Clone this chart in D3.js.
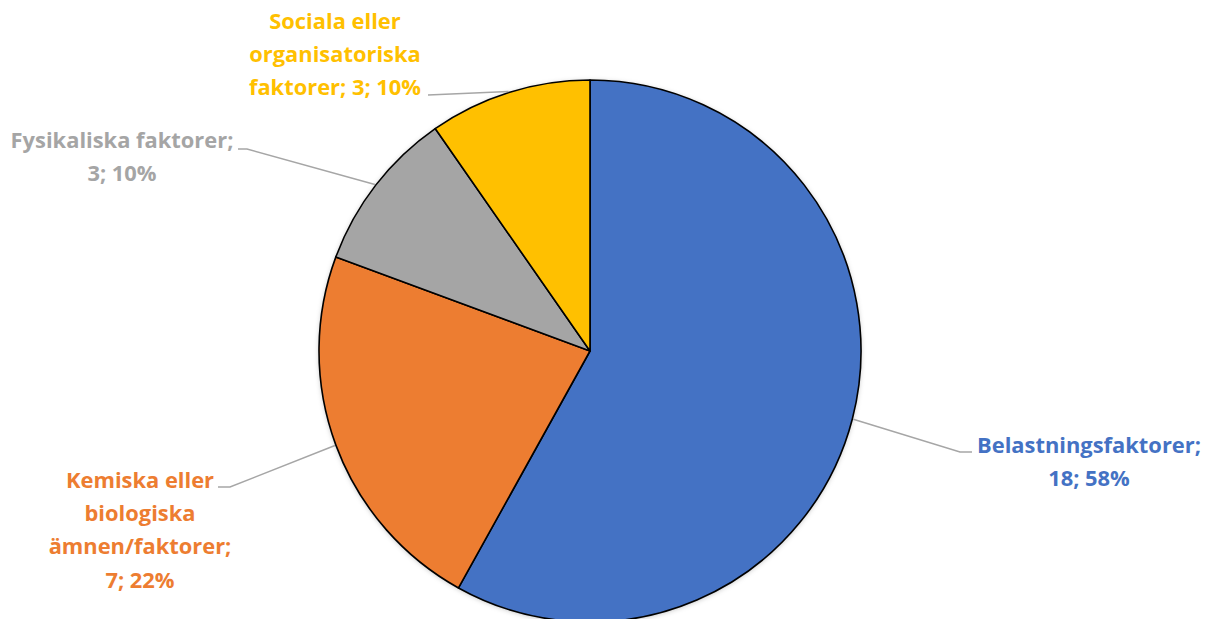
<!DOCTYPE html>
<html><head><meta charset="utf-8">
<script src="https://cdn.jsdelivr.net/npm/d3@7"></script>
<style>body{margin:0;background:#fff;overflow:hidden}svg{display:block}</style>
</head><body>
<svg id="chart" width="1218" height="619"></svg>
<script>
const categories = ["Belastningsfaktorer", "Kemiska eller biologiska ämnen/faktorer", "Fysikaliska faktorer", "Sociala eller organisatoriska faktorer"];
const values = [18, 7, 3, 3];
const percentLabels = ["58%", "22%", "10%", "10%"];
const labelLines = [
  ["Belastningsfaktorer;", "18; 58%"],
  ["Kemiska eller", "biologiska", "ämnen/faktorer;", "7; 22%"],
  ["Fysikaliska faktorer;", "3; 10%"],
  ["Sociala eller", "organisatoriska", "faktorer; 3; 10%"]
];
const colors = ["#4472C4", "#ED7D31", "#A5A5A5", "#FFC000"];

// layout
const cx = 590, cy = 351, R = 271;
const lineH = 33.3;
const labelPos = [
  {x: 1089, y: 445, elbow: [960, 452], end: [972, 452]},
  {x: 140, y: 480, elbow: [230, 487], end: [218, 487]},
  {x: 122, y: 140, elbow: [247, 149], end: [238, 149]},
  {x: 335, y: 21, elbow: [428, 95], end: [428, 95]}
];

const svg = d3.select("#chart");
const defs = svg.append("defs");
const f = defs.append("filter").attr("id","sh").attr("x","-10%").attr("y","-10%").attr("width","120%").attr("height","120%");
f.append("feDropShadow").attr("dx",0).attr("dy",1).attr("stdDeviation",2.5).attr("flood-color","#000").attr("flood-opacity",0.25);

const pie = d3.pie().sort(null).value(d => d)(values);
const arc = d3.arc().innerRadius(0).outerRadius(R);
const g = svg.append("g").attr("transform", `translate(${cx},${cy})`);
g.append("circle").attr("r", R).attr("fill","#fff").attr("filter","url(#sh)");
g.selectAll("path.s").data(pie).join("path").attr("class","s")
  .attr("d", arc).attr("fill", (d,i)=>colors[i])
  .attr("stroke","#000").attr("stroke-width",1.6).attr("stroke-linejoin","round");

// leader lines
pie.forEach((d,i) => {
  const a = (d.startAngle + d.endAngle)/2;
  const px = cx + (R+1)*Math.sin(a), py = cy - (R+1)*Math.cos(a);
  const lp = labelPos[i];
  svg.append("polyline")
    .attr("points", [[px,py], lp.elbow, lp.end].map(p=>p.join(",")).join(" "))
    .attr("fill","none").attr("stroke","#A6A6A6").attr("stroke-width",1.5);
});

// labels
const labels = svg.append("g").attr("font-family","'Open Sans', Lato, sans-serif").attr("font-weight","bold");
const lab = labels.selectAll("text").data(labelLines).join("text")
  .attr("text-anchor","middle").attr("fill",(d,i)=>colors[i])
  .attr("font-size",20);
lab.each(function(lines,i){
  const t = d3.select(this);
  lines.forEach((s,k)=>{
    t.append("tspan").attr("x", labelPos[i].x).attr("y", labelPos[i].y + k*lineH).attr("dy","0.35em").text(s);
  });
});
const probe = lab.filter((d,i)=>i===0).select("tspan").node();
const w = probe.getComputedTextLength();
const fs = Math.max(14, Math.min(28, 20*224/w));
lab.attr("font-size", fs);
</script>
</body></html>
